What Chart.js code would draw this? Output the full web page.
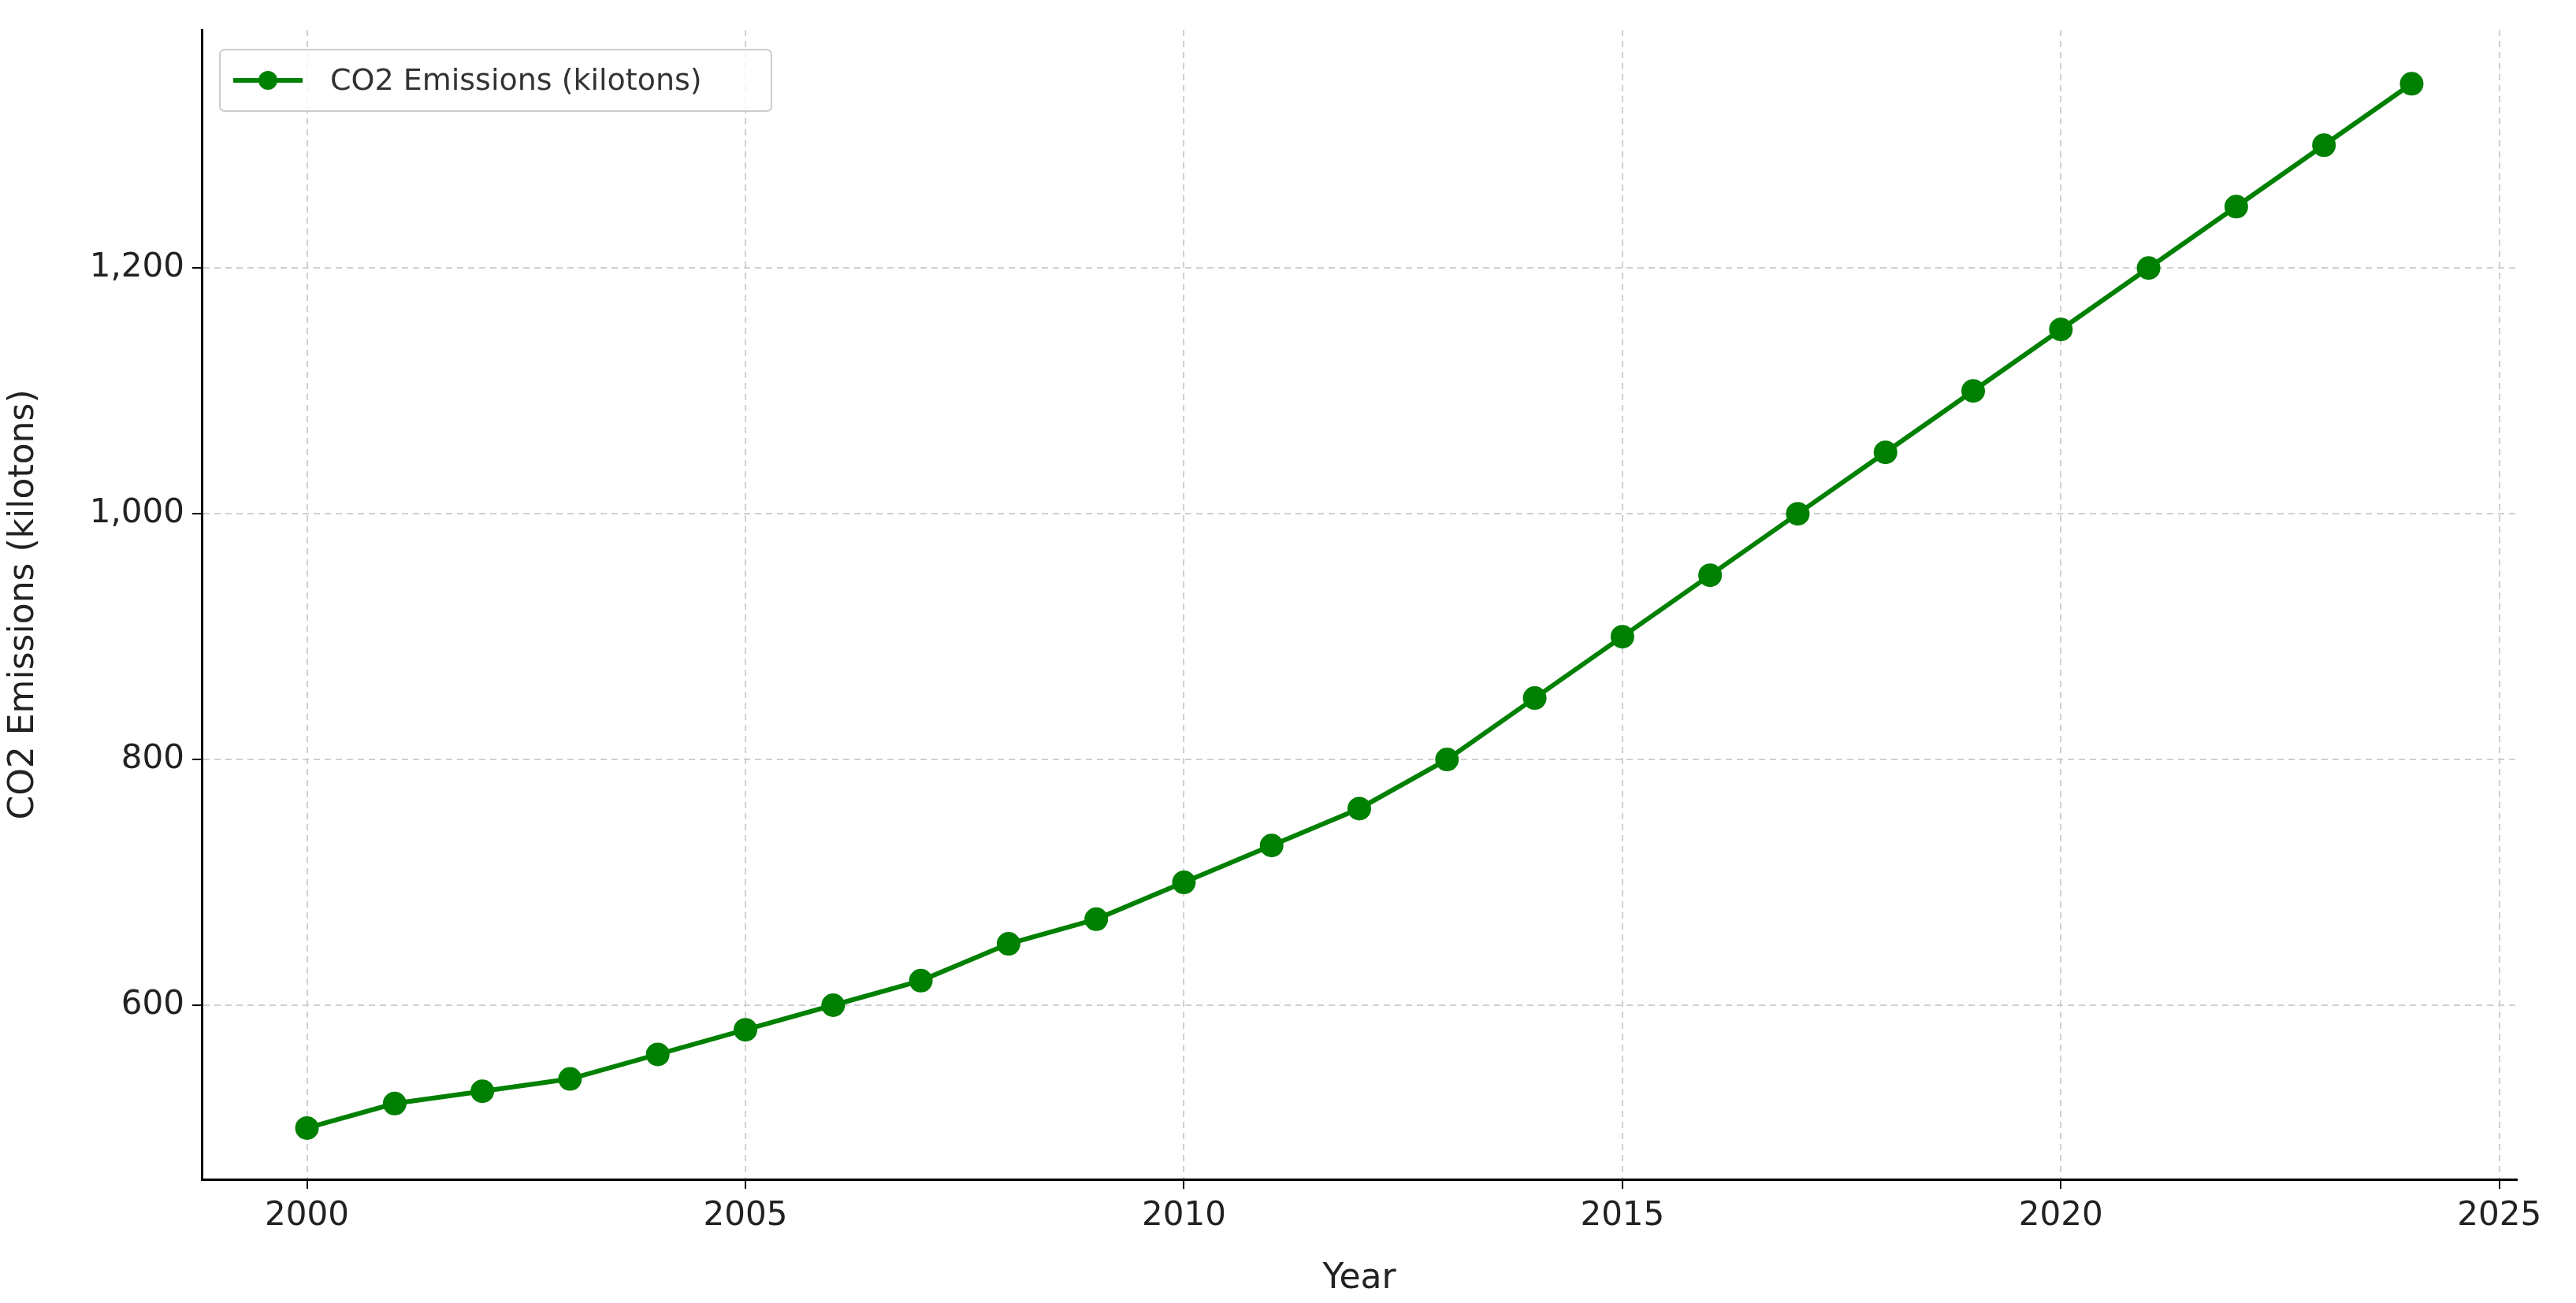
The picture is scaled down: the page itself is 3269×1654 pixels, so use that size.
<!DOCTYPE html>
<html><head><meta charset="utf-8">
<script src="https://cdn.jsdelivr.net/npm/chart.js@4"></script>
<style>html,body{margin:0;padding:0;background:#fff}#w{width:3269px;height:1654px}</style>
</head><body><div id="w"><canvas id="c"></canvas></div>
<script>
const years=[2000,2001,2002,2003,2004,2005,2006,2007,2008,2009,2010,2011,2012,2013,2014,2015,2016,2017,2018,2019,2020,2021,2022,2023,2024];
const emissions=[500,520,530,540,560,580,600,620,650,670,700,730,760,800,850,900,950,1000,1050,1100,1150,1200,1250,1300,1350];
const xTicks=[2000,2005,2010,2015,2020,2025];
const yTicks=[600,800,1000,1200];
const seriesLabel='CO2 Emissions (kilotons)';
const green='#008000';
const F='"DejaVu Sans", sans-serif';
const legendBox={id:'lb',afterDraw(ch){const c=ch.ctx;c.save();
 const x=279,y=63,w=700,h=78;
 c.fillStyle='rgba(255,255,255,0.8)';c.strokeStyle='#ccc';c.lineWidth=2;
 c.beginPath();c.roundRect(x,y,w,h,6);c.fill();c.stroke();
 c.strokeStyle=green;c.lineWidth=6;c.beginPath();c.moveTo(296,y+h/2);c.lineTo(384,y+h/2);c.stroke();
 c.fillStyle=green;c.beginPath();c.arc(340,y+h/2,12,0,Math.PI*2);c.fill();
 c.fillStyle='#333';c.font='38px '+F;c.textBaseline='middle';c.fillText(ch.data.datasets[0].label,419,y+h/2+2);
 c.restore();}};
new Chart(document.getElementById('c'),{type:'line',
 data:{datasets:[{label:seriesLabel,data:years.map((y,i)=>({x:y,y:emissions[i]})),borderColor:green,backgroundColor:green,borderWidth:6,pointRadius:12,pointHoverRadius:12,tension:0}]},
 options:{responsive:true,maintainAspectRatio:false,animation:false,devicePixelRatio:1,
  layout:{padding:{top:38,right:75,left:0,bottom:0}},
  plugins:{legend:{display:false},tooltip:{enabled:false}},
  scales:{
   x:{type:'linear',min:1998.8,max:2025.2,afterBuildTicks:s=>{s.ticks=xTicks.map(v=>({value:v}))},
    afterFit:s=>{s.height=157},
    ticks:{color:'#222',font:{size:42,family:F},padding:10,callback:v=>String(v)},
    grid:{color:'#d0d0d0',lineWidth:2,tickColor:'#000',tickLength:12,drawOnChartArea:true},
    border:{color:'#000',width:3,dash:[8,6],dashOffset:0},
    title:{display:true,text:'Year',font:{size:44,family:F},color:'#222',padding:{top:4}}},
   y:{min:458.3,max:1393.8,afterBuildTicks:s=>{s.ticks=yTicks.map(v=>({value:v}))},
    afterFit:s=>{s.width=256},
    ticks:{color:'#222',font:{size:42,family:F},padding:10},
    grid:{color:'#d0d0d0',lineWidth:2,tickColor:'#000',tickLength:12},
    border:{color:'#000',width:3,dash:[8,6]},
    title:{display:true,text:'CO2 Emissions (kilotons)',font:{size:44,family:F},color:'#222',padding:{bottom:8}}}
  }},plugins:[legendBox]});
</script></body></html>
